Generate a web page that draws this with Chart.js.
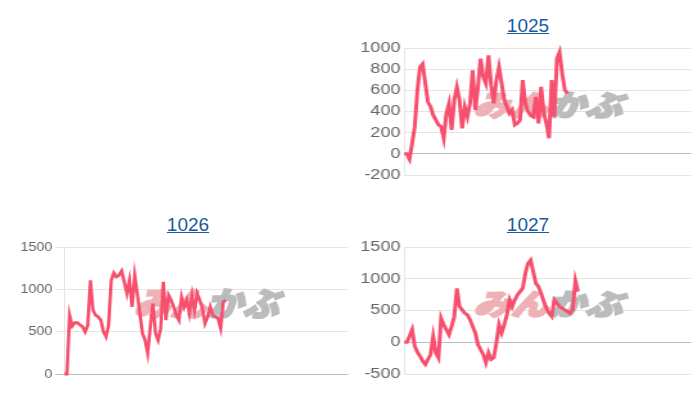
<!DOCTYPE html>
<html>
<head>
<meta charset="utf-8">
<script src="https://cdn.jsdelivr.net/npm/chart.js@4.4.1/dist/chart.umd.min.js"></script>
<style>
  body { margin: 0; width: 700px; height: 400px; background: #fff; position: relative; overflow: hidden;
         font-family: "Liberation Sans", Arial, sans-serif; }
  .title { position: absolute; width: 200px; text-align: center; font-size: 19px; line-height: 19px; }
  .title a { color: #1a5a9e; text-decoration: underline; }
  .box { position: absolute; height: 151px; transform-origin: 0 0; }
</style>
</head>
<body>

<div class="title" style="left:428px; top:16px;"><a href="#">1025</a></div>
<div class="title" style="left:88px; top:215px;"><a href="#">1026</a></div>
<div class="title" style="left:428px; top:215px;"><a href="#">1027</a></div>

<div class="box" id="box1025" style="left:350px; top:36px; width:273.6px; transform:scaleX(1.28);"><canvas id="chart1025"></canvas></div>
<div class="box" id="box1026" style="left:10px; top:235px; width:309px; transform:scaleX(1.1);"><canvas id="chart1026"></canvas></div>
<div class="box" id="box1027" style="left:350px; top:235px; width:273.6px; transform:scaleX(1.28);"><canvas id="chart1027"></canvas></div>

<script>
// x categories (hidden on the chart): one slot per sample of the session
const slotCount = 110;
const slots = [];
for (let i = 0; i < slotCount; i++) slots.push(String(i + 1));

// series values
const values1025 = [0, 0, -50, 100, 257, 600, 820, 850, 665, 490, 445, 365, 320, 273, 257, 147, 382, 476, 226, 508,
  633, 508, 241, 445, 351, 476, 790, 414, 633, 900, 727, 665, 931, 649, 476, 696, 820, 665, 508, 445,
  382, 414, 273, 288, 320, 696, 476, 398, 367, 351, 539, 288, 633, 382, 288, 147, 696, 351, 900, 962,
  758, 602, 570];
const values1026 = [0, 0, 695, 565, 605, 605, 580, 558, 499, 577, 1107, 754, 695, 675, 636, 499, 440, 577, 1107, 1194,
  1147, 1166, 1217, 1088, 950, 1107, 793, 1166, 950, 715, 479, 400, 243, 558, 832, 479, 400, 538, 1088, 636,
  931, 872, 793, 695, 636, 911, 793, 872, 715, 931, 754, 950, 872, 774, 597, 675, 793, 695, 675, 656,
  538, 852, 872];
const values1027 = [0, 0, 94, 198, -62, -156, -219, -297, -349, -271, -193, 94, -167, -245, 380, 276, 198, 120, 250, 406,
  849, 562, 510, 458, 432, 354, 250, 146, -36, -115, -193, -323, -167, -271, -245, -10, 276, 146, 276, 432,
  667, 562, 667, 745, 797, 849, 1083, 1240, 1292, 1109, 927, 875, 771, 641, 536, 458, 406, 667, 615, 562,
  536, 510, 484, 458, 510, 969, 797];

// y tick ranges
const range1025 = [-200, 1000, 200];
const range1026 = [0, 1500, 500];
const range1027 = [-500, 1500, 500];

const lineColor = 'rgb(247, 80, 110)';

// watermark drawn behind the line, centred in the plot
const logoPlugin = {
  id: 'logo',
  beforeDatasetsDraw(chart, args, opts) {
    const { ctx, chartArea } = chart;
    const cx = (chartArea.left + chartArea.right) / 2;
    const cy = (chartArea.top + chartArea.bottom) / 2 - 7;
    ctx.save();
    ctx.font = `italic 900 ${opts.size}px "Noto Sans CJK JP"`;
    ctx.textBaseline = 'middle';
    const w1 = ctx.measureText('みん').width;
    const w2 = ctx.measureText('かぶ').width;
    const x0 = cx - (w1 + w2) / 2;
    ctx.fillStyle = '#eeb1b6';
    ctx.strokeStyle = '#eeb1b6';
    ctx.lineWidth = 2;
    ctx.fillText('みん', x0, cy);
    ctx.strokeText('みん', x0, cy);
    ctx.fillStyle = '#bcbcbc';
    ctx.strokeStyle = '#bcbcbc';
    ctx.fillText('かぶ', x0 + w1, cy);
    ctx.strokeText('かぶ', x0 + w1, cy);
    ctx.restore();
  }
};

function makeChart(id, values, range, opt) {
  const ctx = document.getElementById(id);
  return new Chart(ctx, {
    type: 'line',
    data: {
      labels: slots,
      datasets: [{
        data: values,
        borderColor: lineColor,
        borderWidth: 3,
        pointRadius: 0,
        fill: false,
        tension: 0,
        clip: 4
      }]
    },
    options: {
      responsive: true,
      maintainAspectRatio: false,
      animation: false,
      layout: { padding: { top: 12, bottom: 12, left: 0, right: opt.right } },
      plugins: {
        legend: { display: false },
        tooltip: { enabled: false },
        logo: { size: opt.logo }
      },
      scales: {
        x: { display: false },
        y: {
          min: range[0],
          max: range[1],
          ticks: {
            stepSize: range[2],
            color: '#666',
            padding: 3,
            font: { family: '"Liberation Sans", Arial, sans-serif', size: opt.font },
            callback: v => String(v)
          },
          grid: {
            color: c => (c.tick && c.tick.value === 0) ? 'rgba(0,0,0,0.25)' : 'rgba(0,0,0,0.1)',
            drawTicks: opt.ticks,
            tickLength: 8
          },
          border: { color: 'rgba(0,0,0,0.1)' },
          afterFit: s => { s.width = opt.axis; }
        }
      }
    },
    plugins: [logoPlugin]
  });
}

makeChart('chart1025', values1025, range1025, { right: 8, axis: 42.2, font: 14, ticks: false, logo: 29 });
makeChart('chart1026', values1026, range1026, { right: 0, axis: 49.4, font: 13, ticks: true, logo: 33 });
makeChart('chart1027', values1027, range1027, { right: 8, axis: 42.2, font: 14, ticks: false, logo: 29 });
</script>
</body>
</html>
